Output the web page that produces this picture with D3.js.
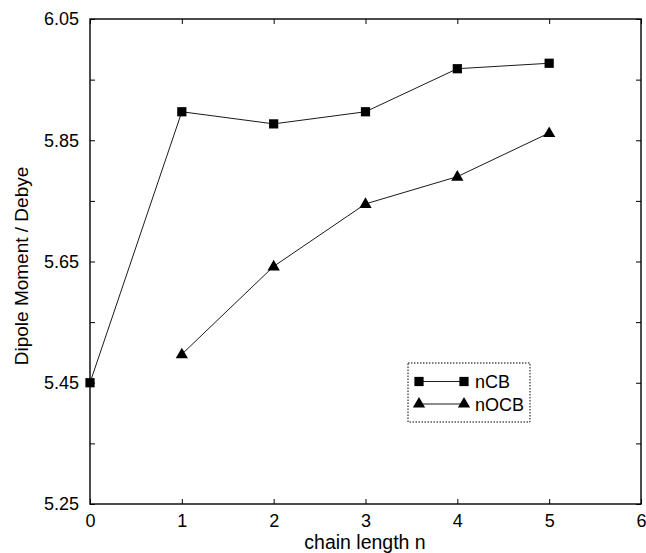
<!DOCTYPE html>
<html><head><meta charset="utf-8">
<script src="https://cdn.jsdelivr.net/npm/d3@7"></script>
<style>body{margin:0;background:#fff}svg{display:block}text{font-family:"Liberation Sans",Arial,sans-serif;fill:#000}</style>
</head><body><svg id="c" width="646" height="553"></svg>
<script>
const chainLength = [0,1,2,3,4,5];
const nCB = [5.45,5.897,5.877,5.897,5.968,5.977];
const nOCBx = [1,2,3,4,5];
const nOCB = [5.497,5.642,5.745,5.79,5.862];
const xTicks = [0,1,2,3,4,5,6];
const yTicks = [5.25,5.45,5.65,5.85,6.05];
const yMinor = [5.35,5.55,5.75,5.95];
const seriesNames = ["nCB","nOCB"];

const svg = d3.select("#c");
const L=90,R=641,T=19,B=504;
const x = d3.scaleLinear().domain([0,6]).range([L,R]);
const y = d3.scaleLinear().domain([5.25,6.05]).range([B,T]);

svg.append("rect").attr("x",L).attr("y",T).attr("width",R-L).attr("height",B-T)
 .attr("fill","none").attr("stroke","#000").attr("stroke-width",1.4);

const bx = svg.append("g").attr("transform",`translate(0,${B})`)
 .call(d3.axisBottom(x).tickValues(xTicks).tickSize(-5).tickPadding(10).tickFormat(d3.format("d")));
const tx = svg.append("g").attr("transform",`translate(0,${T})`)
 .call(d3.axisTop(x).tickValues(xTicks).tickSize(-5).tickFormat(""));
const ly = svg.append("g").attr("transform",`translate(${L},0)`)
 .call(d3.axisLeft(y).tickValues(yTicks.concat(yMinor)).tickSize(-5).tickPadding(11)
 .tickFormat(d=>yTicks.includes(d)?d3.format(".2f")(d):""));
const ry = svg.append("g").attr("transform",`translate(${R},0)`)
 .call(d3.axisRight(y).tickValues(yTicks.concat(yMinor)).tickSize(-5).tickFormat(""));
[bx,tx,ly,ry].forEach(a=>{a.select(".domain").remove();a.selectAll("line").attr("stroke","#000");
 a.selectAll("text").attr("font-size",18).attr("font-family","Liberation Sans, Arial, sans-serif");});

svg.append("text").attr("x",365).attr("y",549).attr("text-anchor","middle").attr("font-size",19.5).text("chain length n");
svg.append("text").attr("transform",`translate(28,266) rotate(-90)`).attr("text-anchor","middle").attr("font-size",19).text("Dipole Moment / Debye");

const line = d3.line().x(d=>x(d[0])).y(d=>y(d[1]));
const d1 = chainLength.map((c,i)=>[c,nCB[i]]);
const d2 = nOCBx.map((c,i)=>[c,nOCB[i]]);
svg.append("path").attr("d",line(d1)).attr("fill","none").attr("stroke","#000").attr("stroke-width",0.9);
svg.append("path").attr("d",line(d2)).attr("fill","none").attr("stroke","#000").attr("stroke-width",0.9);
const sq = d3.symbol().type(d3.symbolSquare).size(85);
const tr = d3.symbol().type(d3.symbolTriangle).size(65);
svg.selectAll(".s").data(d1).join("path").attr("d",sq).attr("transform",d=>`translate(${x(d[0])},${y(d[1])})`).attr("fill","#000");
svg.selectAll(".t").data(d2).join("path").attr("d",tr).attr("transform",d=>`translate(${x(d[0])},${y(d[1])+0.5})`).attr("fill","#000");

const lg = svg.append("g");
lg.append("rect").attr("x",408).attr("y",363).attr("width",122).attr("height",59).attr("fill","none")
 .attr("stroke","#000").attr("stroke-width",1).attr("stroke-dasharray","1.5,1.5");
const rows = [{n:seriesNames[0],s:sq,yy:381.5},{n:seriesNames[1],s:tr,yy:404}];
rows.forEach(r=>{
 lg.append("line").attr("x1",419).attr("x2",464).attr("y1",r.yy).attr("y2",r.yy).attr("stroke","#000").attr("stroke-width",0.9);
 [419,464].forEach(px=>lg.append("path").attr("d",r.s).attr("transform",`translate(${px},${r.yy})`).attr("fill","#000"));
 lg.append("text").attr("x",475).attr("y",r.yy+6.5).attr("font-size",18).text(r.n);
});
</script></body></html>
